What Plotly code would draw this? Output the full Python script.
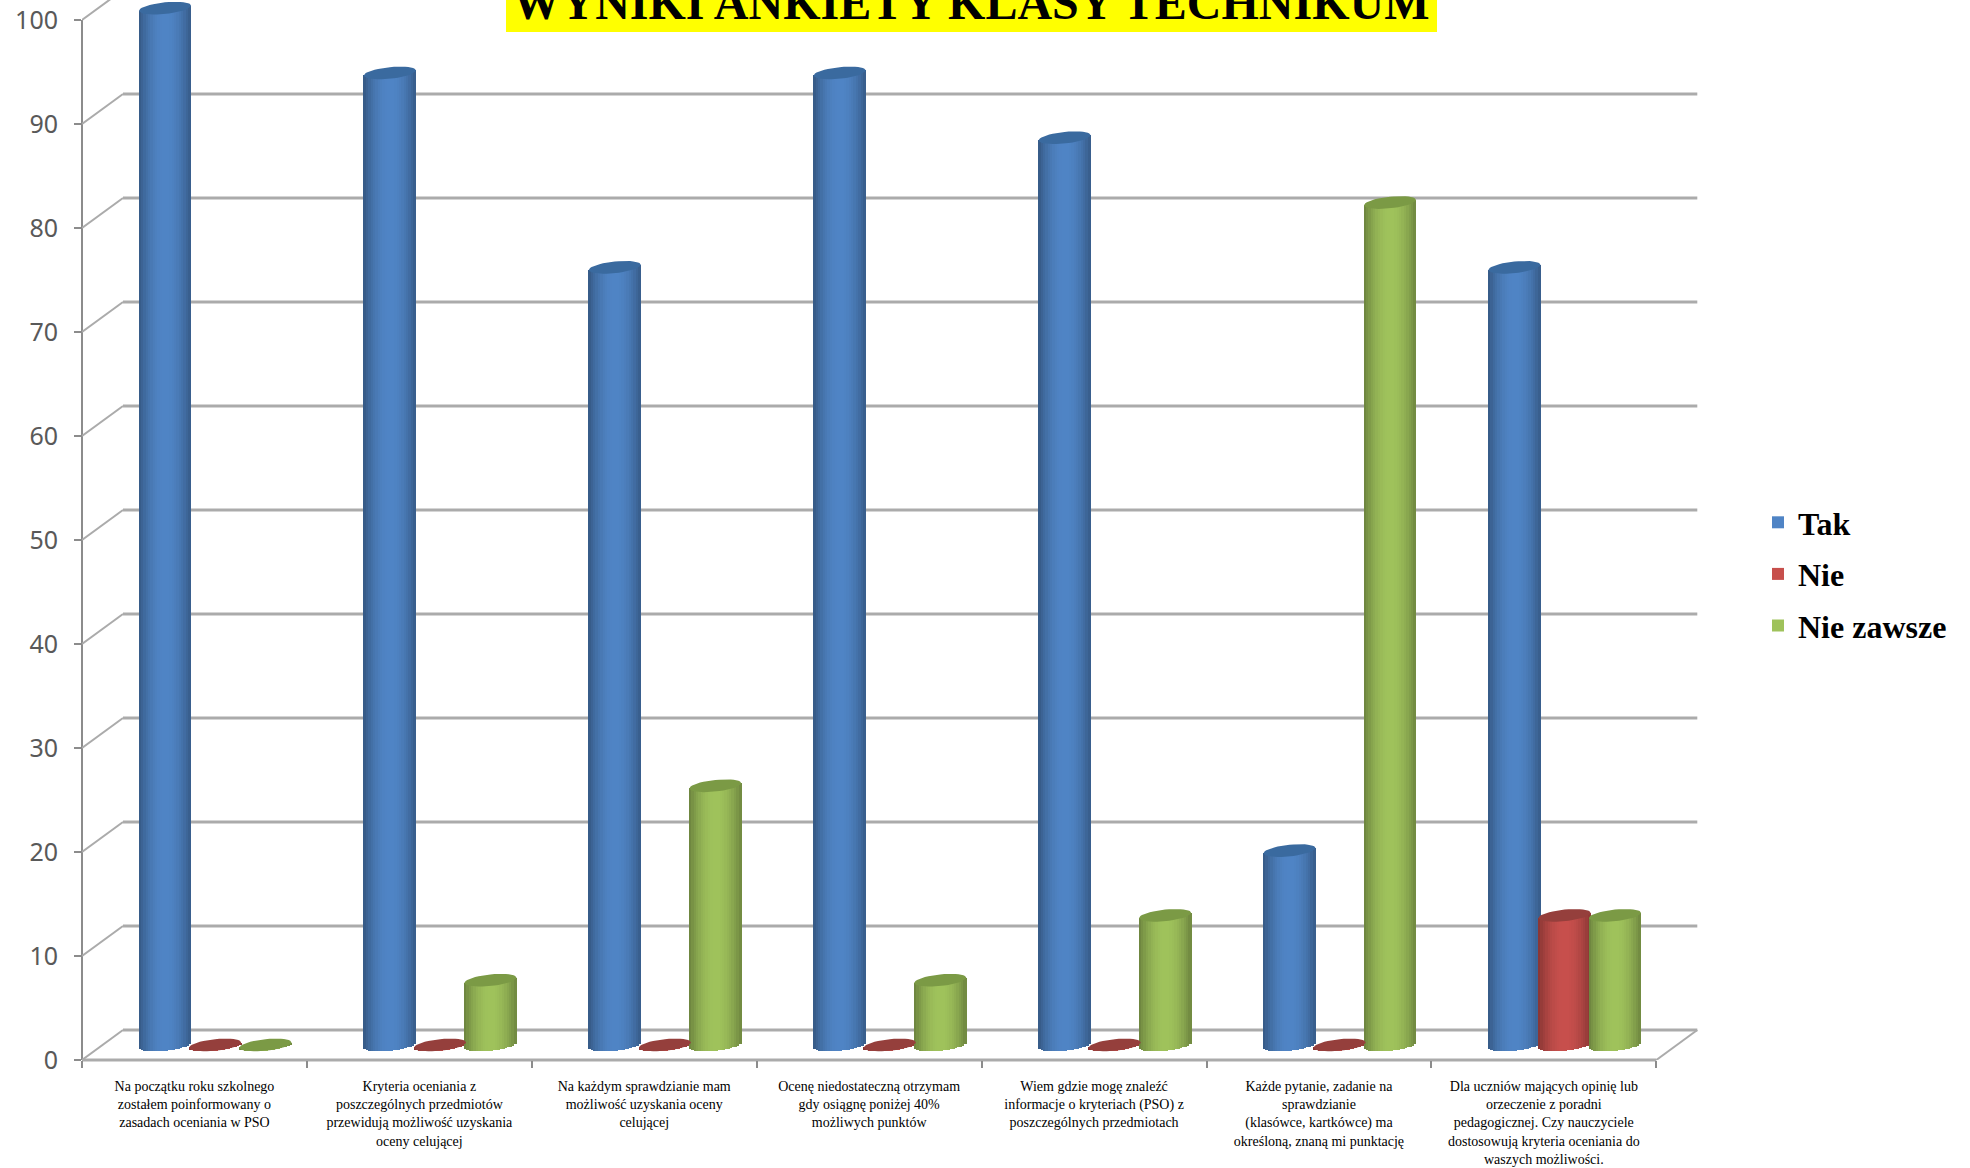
import math
import plotly.graph_objects as go

# ---- data ----
categories = [
    "Na początku roku szkolnego<br>zostałem poinformowany o<br>zasadach oceniania w PSO",
    "Kryteria oceniania z<br>poszczególnych przedmiotów<br>przewidują możliwość uzyskania<br>oceny celującej",
    "Na każdym sprawdzianie mam<br>możliwość uzyskania oceny<br>celującej",
    "Ocenę niedostateczną otrzymam<br>gdy osiągnę poniżej 40%<br>możliwych punktów",
    "Wiem gdzie mogę znaleźć<br>informacje o kryteriach (PSO) z<br>poszczególnych przedmiotach",
    "Każde pytanie, zadanie na<br>sprawdzianie<br>(klasówce, kartkówce) ma<br>określoną, znaną mi punktację",
    "Dla uczniów mających opinię lub<br>orzeczenie z poradni<br>pedagogicznej. Czy nauczyciele<br>dostosowują kryteria oceniania do<br>waszych możliwości.",
]
tak = [100, 93.75, 75, 93.75, 87.5, 18.75, 75]
nie = [0, 0, 0, 0, 0, 0, 12.5]
nie_zawsze = [0, 6.25, 25, 6.25, 12.5, 81.25, 12.5]
y_ticks = [0, 10, 20, 30, 40, 50, 60, 70, 80, 90, 100]

series_names = ["Tak", "Nie", "Nie zawsze"]
series_values = [tak, nie, nie_zawsze]
series_rgb = [(80, 133, 198), (200, 80, 77), (160, 195, 92)]
cap_colors = ["#3a6a9f", "#953f3c", "#7b9a45"]
title_text = "WYNIKI ANKIETY KLASY TECHNIKUM"

# ---- geometry (pixels <-> axis units) ----
W, H = 1970, 1168
L, R, T, B = 82, 266, 0, 108
PX_X = 224.9            # pixels per category
PX_Y = 10.4             # pixels per y unit
x_max = (W - L - R) / PX_X
y_max = (H - T - B) / PX_Y
DEPTH_X = 41 / PX_X     # floor depth in x units
DEPTH_Y = 30 / PX_Y     # floor depth in y units
MID_Y = 15 / PX_Y       # plane where the cylinders stand
PERSPECTIVE = 0.997     # cylinders stand further back than the front axis
RADIUS = 26             # px
SEMI_MINOR = 5.8        # px
TILT = 2.6 / 26         # rise per px
STRIPS = 22
SERIES_POS = [0.369, 0.592, 0.816]
GRID = "#ababab"

fig = go.Figure()


def shade(rgb, u):
    f = 1 - 0.32 * abs(u - 0.02) ** 2.0
    return "rgb(%d,%d,%d)" % tuple(int(c * f) for c in rgb)


for s, (name, vals) in enumerate(zip(series_names, series_values)):
    centres = [i + SERIES_POS[s] for i in range(len(vals))]
    strip_px = 2 * RADIUS / STRIPS
    for j in range(STRIPS):
        u = -1 + (j + 0.5) * 2 / STRIPS
        dx = u * RADIUS
        arc = SEMI_MINOR * math.sqrt(1 - u * u)
        bottom = MID_Y + (TILT * dx - arc) / PX_Y
        tops = [v * PERSPECTIVE + MID_Y + TILT * dx / PX_Y for v in vals]
        fig.add_trace(go.Bar(
            x=[c + dx / PX_X for c in centres],
            y=[t - bottom for t in tops],
            base=[bottom] * len(vals),
            width=strip_px * 1.35 / PX_X,
            marker=dict(color=shade(series_rgb[s], u), line=dict(width=0)),
            name=name,
            legendgroup=name,
            showlegend=(j == STRIPS // 2),
            hoverinfo="skip",
        ))

# cylinder tops
for s, (name, vals) in enumerate(zip(series_names, series_values)):
    xs, ys = [], []
    for i, v in enumerate(vals):
        c = i + SERIES_POS[s]
        for k in range(41):
            a = 2 * math.pi * k / 40
            dx = RADIUS * math.cos(a)
            dy = TILT * dx + SEMI_MINOR * math.sin(a)
            xs.append(c + dx / PX_X)
            ys.append(v * PERSPECTIVE + MID_Y + dy / PX_Y)
        xs.append(None)
        ys.append(None)
    fig.add_trace(go.Scatter(
        x=xs, y=ys, mode="lines", fill="toself", fillcolor=cap_colors[s],
        line=dict(width=0, color=cap_colors[s]), legendgroup=name,
        showlegend=False, hoverinfo="skip", cliponaxis=False,
    ))

# walls & floor
shapes = []
n = len(categories)
for v in y_ticks:
    if v + DEPTH_Y <= y_max:
        shapes.append(dict(type="line", layer="below", xref="x", yref="y",
                           x0=DEPTH_X, x1=n + DEPTH_X, y0=v + DEPTH_Y, y1=v + DEPTH_Y,
                           line=dict(color=GRID, width=3)))
    shapes.append(dict(type="line", layer="below", xref="x", yref="y",
                       x0=0, x1=DEPTH_X, y0=v, y1=v + DEPTH_Y,
                       line=dict(color=GRID, width=2)))
shapes.append(dict(type="line", layer="below", xref="x", yref="paper",
                   x0=0, x1=n, y0=0, y1=0, line=dict(color=GRID, width=3)))
shapes.append(dict(type="line", layer="below", xref="x", yref="y",
                   x0=n, x1=n + DEPTH_X, y0=0, y1=DEPTH_Y, line=dict(color=GRID, width=2)))
shapes.append(dict(type="line", layer="below", xref="paper", yref="y",
                   x0=0, x1=0, y0=0, y1=max(y_ticks), line=dict(color="#8c8c8c", width=2)))
shapes.append(dict(type="rect", layer="above", xref="paper", yref="paper",
                   x0=(506 - L) / (W - L - R), x1=(1437 - L) / (W - L - R),
                   y0=(H - B - 32) / (H - B), y1=1.02,
                   fillcolor="#ffff00", line=dict(width=0)))

fig.update_layout(
    width=W, height=H,
    margin=dict(l=L, r=R, t=T, b=B, autoexpand=False),
    paper_bgcolor="white", plot_bgcolor="white",
    barmode="overlay", bargap=0,
    shapes=shapes,
    title=dict(text="<b>%s</b>" % title_text, x=971 / W, xanchor="center",
               y=1 - 19 / H, yanchor="bottom", pad=dict(t=0, b=0, l=0, r=0),
               font=dict(family="Liberation Serif", size=48, color="black")),
    xaxis=dict(range=[0, x_max], tickmode="array",
               tickvals=[i + 0.5 for i in range(n)], ticktext=categories,
               ticks="", ticklen=0, showgrid=False, zeroline=False, showline=False,
               tickangle=0, ticklabelstandoff=16,
               tickfont=dict(family="Liberation Serif", size=14, color="black"),
               minor=dict(tickmode="array", tickvals=list(range(n + 1)), ticks="outside",
                          ticklen=7, tickwidth=1.5, tickcolor="#8c8c8c", showgrid=False)),
    yaxis=dict(range=[0, y_max], tickmode="array", tickvals=y_ticks,
               ticks="outside", ticklen=7, tickwidth=2, tickcolor="#8c8c8c",
               showgrid=False, zeroline=False, showline=False, ticklabelstandoff=11,
               tickfont=dict(family="Noto Sans", size=25, color="#595959")),
    legend=dict(x=(1758 - L) / (W - L - R), xanchor="left", y=(H - B - 574) / (H - B), yanchor="middle",
                tracegroupgap=7, itemclick=False, itemdoubleclick=False,
                font=dict(family="Liberation Serif", size=32, color="black", weight="bold"),
                bgcolor="rgba(0,0,0,0)"),
    showlegend=True,
)

fig.write_html("out.html", config={"displayModeBar": False},
               post_script="document.body.style.margin='0';document.body.style.overflow='hidden';")
